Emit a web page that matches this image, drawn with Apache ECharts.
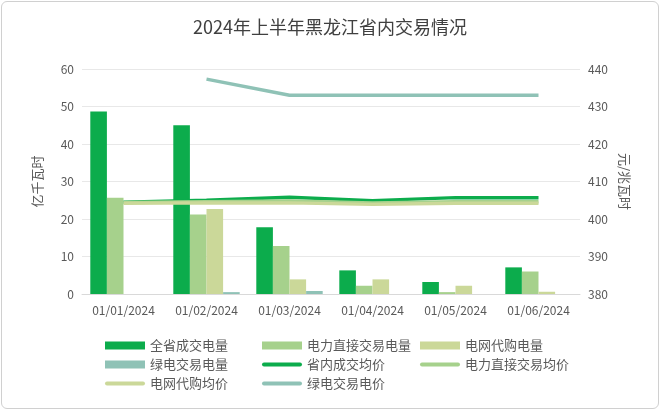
<!DOCTYPE html>
<html>
<head>
<meta charset="utf-8">
<script src="https://cdn.jsdelivr.net/npm/echarts@6/dist/echarts.min.js"></script>
<style>
html, body { margin: 0; padding: 0; background: #fff; }
#main { width: 656px; height: 406px; margin: 1px; border: 1px solid #d0d0d0; border-radius: 6px; }
</style>
</head>
<body>
<div id="main"></div>
<script>
var months = ['01/01/2024', '01/02/2024', '01/03/2024', '01/04/2024', '01/05/2024', '01/06/2024'];
// 电量 (亿千瓦时)
var totalVol = [48.7, 45.0, 17.8, 6.3, 3.2, 7.1];
var directVol = [25.7, 21.2, 12.8, 2.2, 0.5, 6.0];
var gridVol = [0, 22.7, 3.9, 3.9, 2.2, 0.6];
var greenVol = [0, 0.5, 0.8, 0, 0, 0];
// 价格 (元/兆瓦时)
var avgPrice = [404.5, 405.0, 405.8, 404.9, 405.7, 405.7];
var directPrice = [404.4, 404.6, 404.8, 404.3, 404.6, 404.6];
var gridPrice = [404.2, 404.3, 404.3, 403.9, 404.2, 404.2];
var greenPrice = [null, 437.3, 433.0, 433.0, 433.0, 433.0];

var font = '"Noto Sans CJK SC", sans-serif';
var myChart = echarts.init(document.getElementById('main'));
var lineIcon = 'path://M2,0 L38,0 Q40,0 40,2 Q40,4 38,4 L2,4 Q0,4 0,2 Q0,0 2,0 Z';

function bar(name, data, color) {
	return { name: name, type: 'bar', data: data, barGap: '0%', barCategoryGap: '20%',
		itemStyle: { color: color } };
}
function line(name, data, color) {
	return { name: name, type: 'line', yAxisIndex: 1, data: data, symbol: 'none',
		lineStyle: { color: color, width: 3.5 }, itemStyle: { color: color } };
}
var legendBase = { itemWidth: 40, itemHeight: 8, itemGap: 6,
	textStyle: { fontSize: 13, color: '#595959', fontFamily: font } };

var option = {
	textStyle: { fontFamily: font },
	title: { text: '2024年上半年黑龙江省内交易情况', left: 'center', top: 11,
		textStyle: { fontSize: 18, fontWeight: 'normal', color: '#404040', fontFamily: font } },
	legend: [
		Object.assign({ left: 98, top: 332, orient: 'vertical',
			data: [{ name: '全省成交电量', icon: 'rect' }, { name: '绿电交易电量', icon: 'rect' },
				{ name: '电网代购均价', icon: lineIcon }] }, legendBase),
		Object.assign({ left: 255, top: 332, orient: 'vertical',
			data: [{ name: '电力直接交易电量', icon: 'rect' }, { name: '省内成交均价', icon: lineIcon },
				{ name: '绿电交易电价', icon: lineIcon }] }, legendBase),
		Object.assign({ left: 413, top: 332, orient: 'vertical',
			data: [{ name: '电网代购电量', icon: 'rect' }, { name: '电力直接交易均价', icon: lineIcon }] }, legendBase)
	],
	grid: { left: 80, right: 78, top: 67, bottom: 114 },
	xAxis: { type: 'category', data: months,
		axisTick: { show: false },
		axisLine: { lineStyle: { color: '#d9d9d9' } },
		axisLabel: { color: '#595959', fontSize: 12, margin: 10 } },
	yAxis: [
		{ type: 'value', min: 0, max: 60, interval: 10, name: '亿千瓦时', nameLocation: 'middle', nameGap: 38,
			nameRotate: 90, nameTextStyle: { color: '#595959', fontSize: 13 },
			axisLabel: { color: '#595959', fontSize: 12 },
			splitLine: { lineStyle: { color: '#e8e8e8' } } },
		{ type: 'value', min: 380, max: 440, interval: 10, name: '元/兆瓦时', nameLocation: 'middle', nameGap: 38,
			nameRotate: -90, nameTextStyle: { color: '#595959', fontSize: 13 },
			axisLabel: { color: '#595959', fontSize: 12 },
			splitLine: { show: false } }
	],
	series: [
		bar('全省成交电量', totalVol, '#0cac4c'),
		bar('电力直接交易电量', directVol, '#a6d18c'),
		bar('电网代购电量', gridVol, '#cbd899'),
		bar('绿电交易电量', greenVol, '#8fc2b6'),
		line('省内成交均价', avgPrice, '#0cac4c'),
		line('电力直接交易均价', directPrice, '#a6d18c'),
		line('电网代购均价', gridPrice, '#cbd899'),
		line('绿电交易电价', greenPrice, '#8fc2b6')
	]
};
myChart.setOption(option);
</script>
</body>
</html>
